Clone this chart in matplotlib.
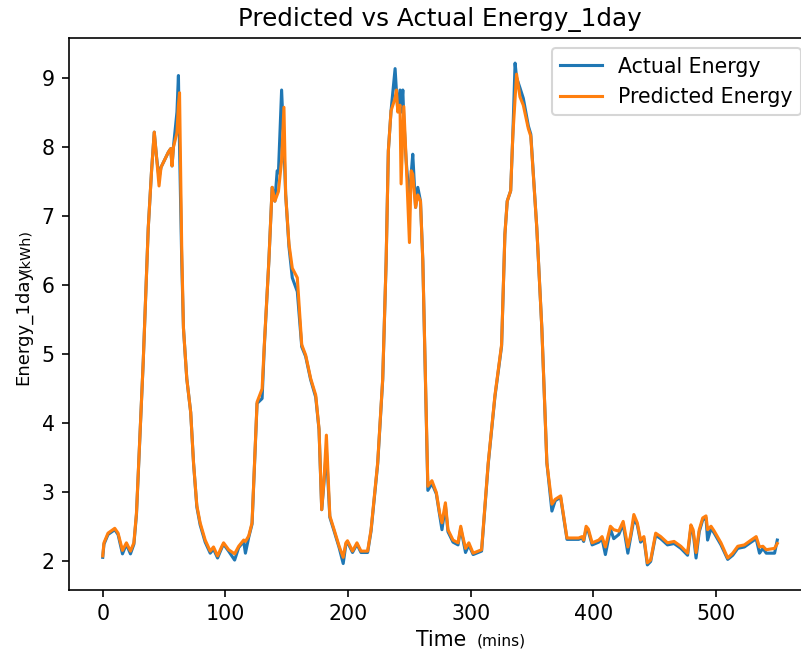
import matplotlib
matplotlib.use("Agg")
import matplotlib.pyplot as plt

# Time (mins) sample positions
time_mins = [0, 1, 4.3, 9.8, 12.5, 16.1, 19.3, 22.6, 25.4, 27.5, 33, 37.1, 39.8, 42, 43.9, 45.9,
             47.5, 50.8, 53.5, 55.4, 56.5, 57.6, 60.5, 61.7, 62.6, 64.4, 65.8, 68.5, 71.7, 74,
             76.7, 79.4, 83.5, 87.6, 90.3, 93.6, 97.1, 98.5, 102.6, 107.5, 110.8, 114.9, 116.3,
             119, 121.7, 125.8, 129.9, 131.7, 135.4, 138.1, 140.3, 142.2, 143.2, 145.8, 147.7,
             149.1, 151.8, 154.5, 158.6, 162.2, 165.4, 169.5, 173.6, 176.3, 178.5, 180.4, 182.3,
             185.1, 188.6, 192.7, 196, 198.2, 199.5, 203.6, 207.2, 210.5, 215.9, 218.7, 224.1,
             228.2, 231, 232.8, 235, 238.3, 239.4, 240.5, 242.3, 243.2, 244.6, 245.4, 247.3,
             250, 251.4, 252.7, 255, 256.8, 259, 260.9, 265, 268.3, 271.9, 274.6, 276.5, 279.3,
             281.4, 285.5, 289.6, 291.8, 293.4, 295.7, 298.4, 301.9, 308.8, 314.2, 319.7, 325.1,
             327.8, 329.7, 332.5, 334.2, 336.1, 337.3, 340.1, 342.8, 346.9, 348.9, 353.8, 357.9,
             362, 366.1, 368.8, 373.2, 378.4, 387.9, 390.7, 392, 394, 395.8, 398.9, 404.3, 407,
             409.7, 413.8, 416.5, 420.6, 424.2, 428, 430.2, 432.9, 435.7, 438.4, 441.1, 443.9,
             446.6, 450.7, 454.8, 460.3, 465.7, 471.2, 476.7, 479.4, 481.2, 483.6, 486.2, 489,
             491.7, 493, 495.8, 498.4, 503.9, 509.4, 513.5, 517.6, 523, 528.5, 532.6, 535.3,
             538.1, 540.8, 547.6, 549.8]

actual_energy = [2.05, 2.24, 2.38, 2.45, 2.38, 2.10, 2.24, 2.10, 2.24, 2.67, 4.88, 6.82, 7.65, 8.21,
                 7.84, 7.55, 7.70, 7.82, 7.92, 7.97, 7.72, 7.99, 8.5, 9.03, 8.0, 6.34, 5.37, 4.64,
                 4.15, 3.42, 2.78, 2.52, 2.27, 2.11, 2.17, 2.04, 2.19, 2.24, 2.14, 2.01, 2.19, 2.28,
                 2.11, 2.34, 2.53, 4.28, 4.35, 5.10, 6.34, 7.41, 7.21, 7.65, 7.62, 8.82, 8.0, 7.31,
                 6.55, 6.10, 5.90, 5.10, 4.96, 4.62, 4.37, 3.90, 2.74, 3.15, 3.60, 2.63, 2.43, 2.19,
                 1.96, 2.24, 2.27, 2.12, 2.24, 2.12, 2.12, 2.43, 3.40, 4.62, 6.34, 7.94, 8.52, 9.13,
                 8.8, 8.52, 8.82, 8.5, 8.82, 8.4, 7.80, 7.2, 7.6, 7.89, 7.12, 7.41, 7.21, 6.34, 3.02,
                 3.12, 2.97, 2.66, 2.45, 2.80, 2.42, 2.27, 2.23, 2.47, 2.33, 2.12, 2.23, 2.09, 2.14,
                 3.40, 4.38, 5.11, 6.73, 7.21, 7.36, 8.14, 9.21, 9.0, 8.85, 8.7, 8.3, 8.18, 6.82,
                 5.37, 3.42, 2.72, 2.87, 2.92, 2.31, 2.31, 2.33, 2.28, 2.46, 2.43, 2.23, 2.27, 2.32,
                 2.09, 2.46, 2.32, 2.38, 2.53, 2.11, 2.33, 2.60, 2.52, 2.27, 2.32, 1.94, 1.99, 2.37,
                 2.32, 2.23, 2.25, 2.18, 2.08, 2.48, 2.42, 2.04, 2.42, 2.59, 2.62, 2.30, 2.47, 2.40,
                 2.23, 2.02, 2.08, 2.18, 2.20, 2.27, 2.32, 2.11, 2.18, 2.11, 2.11, 2.30]

predicted_energy = [2.07, 2.26, 2.40, 2.47, 2.40, 2.15, 2.26, 2.14, 2.26, 2.69, 4.88, 6.82, 7.65,
                    8.21, 7.84, 7.43, 7.70, 7.82, 7.92, 7.97, 7.72, 7.99, 8.2, 8.6, 8.78, 6.5, 5.37,
                    4.64, 4.15, 3.42, 2.80, 2.55, 2.30, 2.14, 2.20, 2.07, 2.21, 2.26, 2.16, 2.10,
                    2.21, 2.30, 2.28, 2.36, 2.55, 4.30, 4.49, 5.13, 6.34, 7.41, 7.21, 7.30, 7.35,
                    7.8, 8.57, 7.31, 6.59, 6.24, 6.10, 5.13, 4.98, 4.64, 4.40, 3.91, 2.74, 3.18,
                    3.82, 2.65, 2.45, 2.21, 2.05, 2.26, 2.29, 2.14, 2.26, 2.14, 2.14, 2.45, 3.42,
                    4.64, 6.34, 7.94, 8.52, 8.7, 8.82, 8.5, 8.6, 7.46, 8.2, 8.58, 7.80, 6.61, 7.65,
                    7.6, 7.12, 7.3, 7.21, 6.34, 3.08, 3.16, 2.99, 2.69, 2.55, 2.84, 2.45, 2.30,
                    2.26, 2.50, 2.36, 2.18, 2.26, 2.11, 2.16, 3.42, 4.40, 5.13, 6.73, 7.21, 7.36,
                    8.14, 8.7, 9.05, 8.72, 8.6, 8.26, 8.15, 6.82, 5.37, 3.42, 2.82, 2.89, 2.94,
                    2.33, 2.33, 2.35, 2.30, 2.50, 2.46, 2.26, 2.30, 2.35, 2.2, 2.50, 2.45, 2.43,
                    2.57, 2.2, 2.36, 2.67, 2.55, 2.30, 2.35, 1.97, 2.01, 2.40, 2.35, 2.26, 2.28,
                    2.21, 2.11, 2.52, 2.45, 2.12, 2.45, 2.62, 2.65, 2.45, 2.50, 2.43, 2.26, 2.04,
                    2.11, 2.21, 2.23, 2.30, 2.35, 2.2, 2.21, 2.16, 2.18, 2.25]

title_text = "Predicted vs Actual Energy_1day"
x_ticks = [0, 100, 200, 300, 400, 500]
y_ticks = [2, 3, 4, 5, 6, 7, 8, 9]

W, H, DPI = 801, 657, 148
fig = plt.figure(figsize=(W / DPI, H / DPI), dpi=DPI)
ax = fig.add_axes([69 / W, 1 - 590 / H, 742 / W, (590 - 38) / H])

ax.plot(time_mins, actual_energy, color="#1f77b4", label="Actual Energy")
ax.plot(time_mins, predicted_energy, color="#ff7f0e", label="Predicted Energy")
ax.set_xticks(x_ticks)
ax.set_yticks(y_ticks)
ax.set_title(title_text)
ax.legend(loc="upper right")

# axis labels with smaller unit text
fig.text(23 / W, 1 - 385 / H, "Energy_1day", rotation=90, ha="center", va="bottom", fontsize=8.8)
fig.text(25 / W, 1 - 272 / H, "(kWh)", rotation=90, ha="center", va="bottom", fontsize=7)
fig.text(416 / W, 1 - 640 / H, "Time", ha="left", va="center", fontsize=10)
fig.text(477 / W, 1 - 641 / H, "(mins)", ha="left", va="center", fontsize=7.5)

fig.savefig("out.png", dpi=DPI)
